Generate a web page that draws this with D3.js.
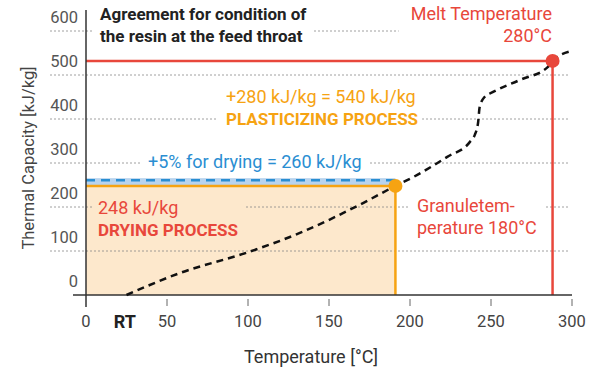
<!DOCTYPE html>
<html>
<head>
<meta charset="utf-8">
<script src="https://cdn.jsdelivr.net/npm/d3@7"></script>
<style>
  body { margin: 0; background: #fff; }
  text { font-family: Roboto, sans-serif; }
</style>
</head>
<body>
<div id="chart"></div>
<script>
// dati
var xTicks = [0, 50, 100, 150, 200, 250, 300];
var yTicks = [0, 100, 200, 300, 400, 500, 600];

// curva della capacita termica (temperatura, kJ/kg)
var curveT = [25, 58, 99, 132, 171, 191, 202, 223, 237, 240, 242, 243, 246, 251, 268, 285, 288, 300];
var curveE = [0, 50, 96, 141, 209, 248, 268, 314, 348, 364, 391, 427, 450, 461, 489, 518, 532, 555];

var dryTemp = 191;      // linea temperatura granulo
var dryEnergy = 248;
var dryPlus = 261;      // +5% per essiccazione
var meltTemp = 288;
var meltEnergy = 532;

var titleLines = ["Agreement for condition of", "the resin at the feed throat"];
var meltLines = ["Melt Temperature", "280°C"];
var plastLines = ["+280 kJ/kg = 540 kJ/kg", "PLASTICIZING PROCESS"];
var blueLine = "+5% for drying = 260 kJ/kg";
var dryLines = ["248 kJ/kg", "DRYING PROCESS"];
var granLines = ["Granuletem-", "perature 180°C"];

var width = 600, height = 373;
var red = "#e8473b", orange = "#f6a312", blue = "#2a8ed2", dark = "#222";
var fillOrange = "#fde8cc", fillBlue = "#b8d3ee";

var svg = d3.select("#chart").append("svg")
	.attr("width", width)
	.attr("height", height);

var x = d3.scaleLinear().domain([0, 300]).range([86, 572]);
var y = d3.scaleLinear().domain([0, 600]).range([295, 31]);

// area del processo di essiccazione
svg.append("rect")
	.attr("x", x(0)).attr("y", y(dryEnergy))
	.attr("width", x(dryTemp) - x(0)).attr("height", y(0) - y(dryEnergy))
	.attr("fill", fillOrange);

svg.append("rect")
	.attr("x", x(0)).attr("y", y(dryPlus) - 2)
	.attr("width", x(dryTemp) - x(0)).attr("height", y(dryEnergy) - y(dryPlus) + 2)
	.attr("fill", fillBlue);

// griglia tratteggiata
svg.selectAll(".grid")
	.data(yTicks.filter(function(d) { return d > 0; }))
	.enter()
	.append("line")
	.attr("x1", 50).attr("x2", 570)
	.attr("y1", function(d) { return y(d); })
	.attr("y2", function(d) { return y(d); })
	.attr("stroke", "#888")
	.attr("stroke-width", 0.8)
	.attr("stroke-dasharray", "2,2");

// funzione per le etichette con sfondo
function label(lines, px, py, opt) {
	var g = svg.append("g");
	var bg = g.append("rect").attr("fill", opt.bg || "#fff");
	var t = g.append("text")
		.attr("x", px).attr("y", py)
		.attr("text-anchor", opt.anchor || "start")
		.attr("fill", opt.color);
	lines.forEach(function(l, i) {
		var bold = opt.bold && opt.bold[i];
		t.append("tspan")
			.attr("x", px)
			.attr("dy", i == 0 ? 0 : opt.lh || 22)
			.style("font-weight", bold ? "bold" : "normal")
			.style("font-size", (bold ? 17 : 18) + "px")
			.text(l);
	});
	var b = t.node().getBBox();
	var pl = opt.padL == null ? 8 : opt.padL, pr = opt.padR == null ? 8 : opt.padR;
	bg.attr("x", b.x - pl).attr("y", b.y)
		.attr("width", b.width + pl + pr).attr("height", b.height);
	return g;
}

label(titleLines, 100, 20, {color: dark, bold: [true, true], padL: 8, padR: 6});
label(meltLines, 552, 20, {color: red, anchor: "end", padL: 12, padR: 18});
label(plastLines, 226, 103, {color: orange, bold: [false, true], padL: 8, padR: 4});
label([blueLine], 148, 168, {color: blue, padL: 8, padR: 8});
label(dryLines, 98, 214, {color: red, bold: [false, true], bg: fillOrange, padL: 4, padR: 6});
label(granLines, 417, 212, {color: red, padL: 8, padR: 8});

// linee di riferimento
svg.append("line")
	.attr("x1", x(0)).attr("x2", x(dryTemp))
	.attr("y1", y(dryPlus)).attr("y2", y(dryPlus))
	.attr("stroke", blue).attr("stroke-width", 2.5)
	.attr("stroke-dasharray", "9,6");

svg.append("line")
	.attr("x1", x(0)).attr("x2", x(dryTemp))
	.attr("y1", y(dryEnergy)).attr("y2", y(dryEnergy))
	.attr("stroke", orange).attr("stroke-width", 2.5);

svg.append("line")
	.attr("x1", x(dryTemp)).attr("x2", x(dryTemp))
	.attr("y1", y(dryEnergy)).attr("y2", y(0))
	.attr("stroke", orange).attr("stroke-width", 2.5);

svg.append("line")
	.attr("x1", x(0)).attr("x2", x(meltTemp))
	.attr("y1", y(meltEnergy)).attr("y2", y(meltEnergy))
	.attr("stroke", red).attr("stroke-width", 2.5);

svg.append("line")
	.attr("x1", x(meltTemp)).attr("x2", x(meltTemp))
	.attr("y1", y(meltEnergy)).attr("y2", y(0))
	.attr("stroke", red).attr("stroke-width", 2.5);

// assi
svg.append("line")
	.attr("x1", x(0)).attr("x2", x(0))
	.attr("y1", 10).attr("y2", 307)
	.attr("stroke", "#333").attr("stroke-width", 1.5);

svg.append("line")
	.attr("x1", 73).attr("x2", x(300))
	.attr("y1", y(0)).attr("y2", y(0))
	.attr("stroke", "#333").attr("stroke-width", 1.5);

svg.selectAll(".xtick")
	.data(xTicks.filter(function(d) { return d > 0; }))
	.enter()
	.append("line")
	.attr("x1", function(d) { return x(d); })
	.attr("x2", function(d) { return x(d); })
	.attr("y1", 299).attr("y2", 306)
	.attr("stroke", "#666").attr("stroke-width", 1);

svg.selectAll(".xlab")
	.data(xTicks)
	.enter()
	.append("text")
	.attr("x", function(d) { return x(d); })
	.attr("y", 327)
	.attr("text-anchor", "middle")
	.attr("fill", "#444")
	.style("font-size", "16.5px")
	.text(function(d) { return d; });

svg.append("text")
	.attr("x", x(24)).attr("y", 328)
	.attr("text-anchor", "middle")
	.attr("fill", dark)
	.style("font-size", "18px")
	.style("font-weight", "bold")
	.text("RT");

svg.selectAll(".ylab")
	.data(yTicks)
	.enter()
	.append("text")
	.attr("x", 78)
	.attr("y", function(d) { return y(d) - 8; })
	.attr("text-anchor", "end")
	.attr("fill", "#555")
	.style("font-size", "16.5px")
	.text(function(d) { return d; });

svg.append("text")
	.attr("transform", "translate(34,158) rotate(-90)")
	.attr("text-anchor", "middle")
	.attr("fill", "#444")
	.style("font-size", "16.5px")
	.text("Thermal Capacity [kJ/kg]");

svg.append("text")
	.attr("x", 311).attr("y", 363)
	.attr("text-anchor", "middle")
	.attr("fill", "#333")
	.style("font-size", "18px")
	.text("Temperature [°C]");

// curva tratteggiata
var line = d3.line()
	.x(function(d) { return x(d[0]); })
	.y(function(d) { return y(d[1]); })
	.curve(d3.curveMonotoneX);

svg.append("path")
	.datum(d3.zip(curveT, curveE))
	.attr("d", line)
	.attr("fill", "none")
	.attr("stroke", "#111")
	.attr("stroke-width", 2.5)
	.attr("stroke-dasharray", "7,5");

// punti
svg.append("circle")
	.attr("cx", x(dryTemp)).attr("cy", y(dryEnergy)).attr("r", 7)
	.attr("fill", orange);

svg.append("circle")
	.attr("cx", x(meltTemp)).attr("cy", y(meltEnergy)).attr("r", 7)
	.attr("fill", red);
</script>
</body>
</html>
